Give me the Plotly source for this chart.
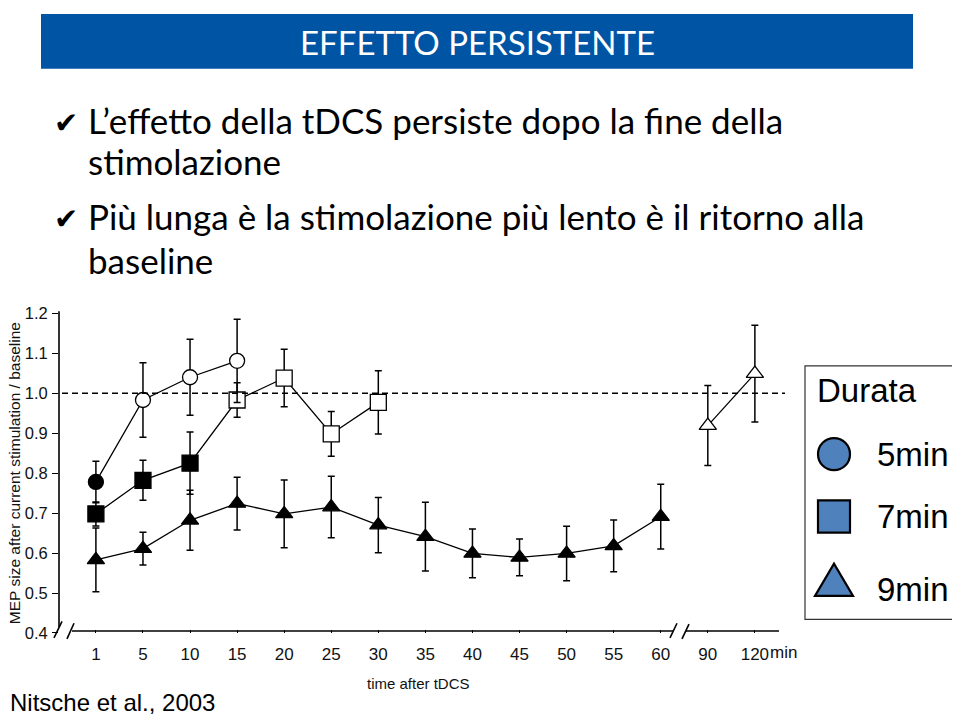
import plotly.graph_objects as go

# ---------------- data ----------------
time_labels = ["1", "5", "10", "15", "20", "25", "30", "35", "40", "45", "50", "55", "60", "90", "120"]

t5_time = ["1", "5", "10", "15"]
t5_mep = [0.778, 0.983, 1.040, 1.081]
t5_err = [0.052, 0.093, 0.095, 0.104]

t7_time = ["1", "5", "10", "15", "20", "25", "30"]
t7_mep = [0.698, 0.782, 0.825, 0.983, 1.038, 0.898, 0.977]
t7_err = [0.030, 0.050, 0.078, 0.043, 0.072, 0.056, 0.079]

t9_time_a = ["1", "5", "10", "15", "20", "25", "30", "35", "40", "45", "50", "55", "60"]
t9_mep_a = [0.583, 0.611, 0.682, 0.724, 0.698, 0.715, 0.670, 0.641, 0.599, 0.589, 0.599, 0.618, 0.691]
t9_err_a = [0.080, 0.041, 0.075, 0.066, 0.085, 0.077, 0.069, 0.086, 0.061, 0.046, 0.068, 0.065, 0.081]

t9_time_b = ["90", "120"]
t9_mep_b = [0.919, 1.049]
t9_err_b = [0.100, 0.121]

y_ticks = [0.4, 0.5, 0.6, 0.7, 0.8, 0.9, 1.0, 1.1, 1.2]
y_ticklabels = ["0.4", "0.5", "0.6", "0.7", "0.8", "0.9", "1.0", "1.1", "1.2"]
baseline = 1.0

legend_title = "Durata"
legend_labels = ["5min", "7min", "9min"]

slide_title = "EFFETTO PERSISTENTE"
bullet_lines = [
    ("✔", "L’effetto della tDCS persiste dopo la fine della"),
    ("", "stimolazione"),
    ("✔", "Più lunga è la stimolazione più lento è il ritorno alla"),
    ("", "baseline"),
]
y_title = "MEP size after current stimulation / baseline"
x_title = "time after tDCS"
citation = "Nitsche et al., 2003"

# ---------------- styles ----------------
OFF = 8  # page body margin; figure sized so the page fits the 960x726 window exactly
W, H = 960 - 2 * OFF, 726 - 2 * OFF


def X(px):
    return (px - OFF) / W


def Y(py):
    return 1 - (py - OFF) / H


t5_filled = [True, False, False, False]
t7_filled = [True, True, True, False, False, False, False]


def fills(flags):
    return ["black" if f else "white" for f in flags]


err_style = dict(type="data", visible=True, thickness=1.5, width=3.5, color="black")
line_style = dict(color="black", width=1.3)

fig = go.Figure()

fig.add_trace(go.Scatter(
    x=t9_time_a, y=t9_mep_a, mode="lines+markers",
    line=line_style,
    marker=dict(symbol="triangle-up", size=15, color="black", line=dict(color="black", width=1.2)),
    error_y=dict(array=t9_err_a, **err_style), showlegend=False, cliponaxis=False))
fig.add_trace(go.Scatter(
    x=t9_time_b, y=t9_mep_b, mode="lines+markers",
    line=line_style,
    marker=dict(symbol="triangle-up", size=15, color="white", line=dict(color="black", width=1.3)),
    error_y=dict(array=t9_err_b, **err_style), showlegend=False, cliponaxis=False))
fig.add_trace(go.Scatter(
    x=t7_time, y=t7_mep, mode="lines+markers",
    line=line_style,
    marker=dict(symbol="square", size=16, color=fills(t7_filled), line=dict(color="black", width=1.3)),
    error_y=dict(array=t7_err, **err_style), showlegend=False, cliponaxis=False))
fig.add_trace(go.Scatter(
    x=t5_time, y=t5_mep, mode="lines+markers",
    line=line_style,
    marker=dict(symbol="circle", size=15, color=fills(t5_filled), line=dict(color="black", width=1.3)),
    error_y=dict(array=t5_err, **err_style), showlegend=False, cliponaxis=False))

arial = "Liberation Sans, Arial, sans-serif"

fig.update_layout(
    width=W, height=H,
    margin=dict(l=0, r=0, t=0, b=0),
    paper_bgcolor="white", plot_bgcolor="white",
    xaxis=dict(domain=[X(59), X(785)], type="category",
               categoryorder="array", categoryarray=time_labels,
               range=[-0.784, 14.64], showgrid=False, zeroline=False, showline=False,
               ticks="inside", ticklen=3, tickwidth=1.2, tickcolor="black",
               tickfont=dict(family=arial, size=17, color="#111"), ticklabelstandoff=9, fixedrange=True),
    yaxis=dict(domain=[Y(640), Y(312)], range=[0.4, 1.2],
               tickvals=y_ticks, ticktext=y_ticklabels,
               showgrid=False, zeroline=False, showline=False,
               ticks="outside", ticklen=6, tickwidth=1.3, tickcolor="black",
               tickfont=dict(family=arial, size=16.5, color="#111"), ticklabelstandoff=1, fixedrange=True),
)

shapes = []
# title bar
shapes.append(dict(type="rect", xref="paper", yref="paper", x0=X(41), x1=X(913), y0=Y(61), y1=Y(5),
                   fillcolor="#0054A4", line=dict(width=0), layer="below"))
# baseline dashed line
shapes.append(dict(type="line", xref="paper", yref="y", x0=X(62), x1=X(785), y0=baseline, y1=baseline,
                   line=dict(color="black", width=1.6, dash="6px,4px")))
ax_line = dict(color="black", width=1.6)
segs = [
    ((59, 310), (59, 634)),
    ((54, 645), (62, 628)),
    ((67, 646), (74, 630)),
    ((72, 638), (673, 638)),
    ((670, 645), (677, 630)),
    ((682, 646), (689, 631)),
    ((686, 638), (779, 638)),
]
for (a, b) in segs:
    shapes.append(dict(type="line", xref="paper", yref="paper",
                       x0=X(a[0]), y0=Y(a[1]), x1=X(b[0]), y1=Y(b[1]), line=ax_line))
# legend box
shapes.append(dict(type="rect", xref="paper", yref="paper", x0=X(805), x1=X(957), y0=Y(626), y1=Y(366),
                   line=dict(color="#333", width=1.2), fillcolor="white"))
leg_fill = "#4F81BD"
leg_line = dict(color="black", width=2.2)
shapes.append(dict(type="circle", xref="paper", yref="paper", x0=X(818), x1=X(850), y0=Y(473), y1=Y(440),
                   fillcolor=leg_fill, line=leg_line))
shapes.append(dict(type="rect", xref="paper", yref="paper", x0=X(818), x1=X(850), y0=Y(537), y1=Y(504),
                   fillcolor=leg_fill, line=leg_line))
tri = "M {} {} L {} {} L {} {} Z".format(X(815), Y(602), X(853), Y(602), X(834), Y(569))
shapes.append(dict(type="path", xref="paper", yref="paper", path=tri, fillcolor=leg_fill, line=leg_line))
fig.update_layout(shapes=shapes)

ann = []
slide_font = "Lato, Calibri, sans-serif"
ann.append(dict(x=X(477), y=Y(34), xref="paper", yref="paper", text=slide_title, showarrow=False,
                xanchor="center", yanchor="middle",
                font=dict(family="Lato, sans-serif", size=33, color="white")))
line_y = [114, 156, 212, 257]
for (mark, txt), py in zip(bullet_lines, line_y):
    if mark:
        ann.append(dict(x=X(52), y=Y(py + 3), xref="paper", yref="paper", text=mark, showarrow=False,
                        xanchor="left", yanchor="middle",
                        font=dict(family="DejaVu Sans, sans-serif", size=29, color="black")))
    ann.append(dict(x=X(86), y=Y(py), xref="paper", yref="paper", text=txt, showarrow=False,
                    xanchor="left", yanchor="middle",
                    font=dict(family=slide_font, size=35, color="black")))
ann.append(dict(x=X(14), y=Y(476), xref="paper", yref="paper", text=y_title, showarrow=False,
                textangle=-90, xanchor="center", yanchor="middle",
                font=dict(family=arial, size=15.5, color="#111")))
ann.append(dict(x=X(418), y=Y(692), xref="paper", yref="paper", text=x_title, showarrow=False,
                xanchor="center", yanchor="middle", font=dict(family=arial, size=15, color="#111")))
ann.append(dict(x=X(768), y=Y(660), xref="paper", yref="paper", text="min", showarrow=False,
                xanchor="left", yanchor="middle", font=dict(family=arial, size=17, color="#111")))
ann.append(dict(x=X(8), y=Y(711), xref="paper", yref="paper", text=citation, showarrow=False,
                xanchor="left", yanchor="middle", font=dict(family=arial, size=24, color="black")))
ann.append(dict(x=X(815), y=Y(391), xref="paper", yref="paper", text=legend_title, showarrow=False,
                xanchor="left", yanchor="middle", font=dict(family=arial, size=33, color="black")))
for lab, py in zip(legend_labels, [457, 521, 595]):
    ann.append(dict(x=X(875), y=Y(py), xref="paper", yref="paper", text=lab, showarrow=False,
                    xanchor="left", yanchor="middle", font=dict(family=arial, size=33, color="black")))
fig.update_layout(annotations=ann)

fig.write_html("out.html")
